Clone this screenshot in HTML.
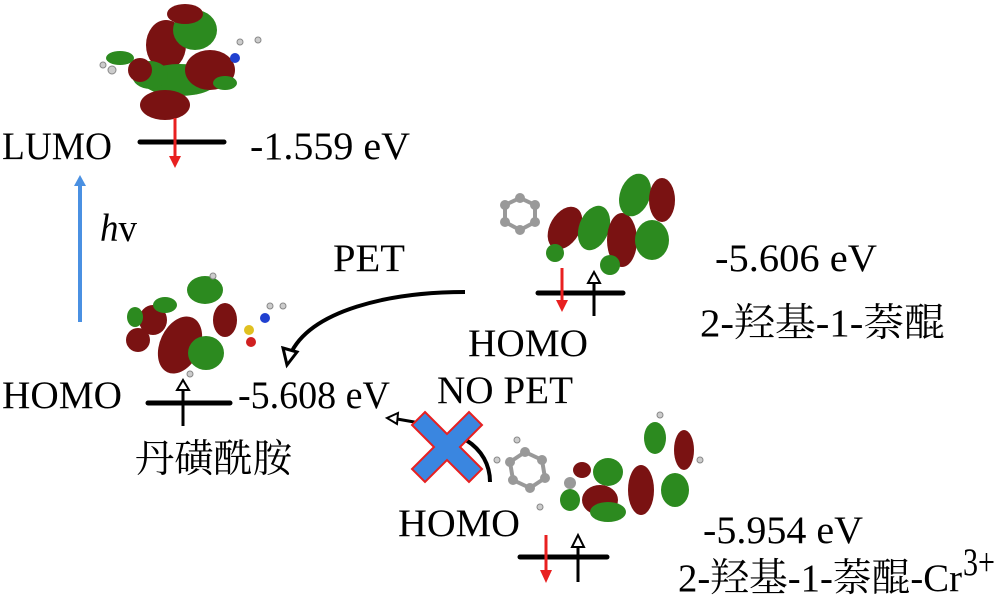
<!DOCTYPE html>
<html><head><meta charset="utf-8"><style>
html,body{margin:0;padding:0;background:#fff}
svg{display:block}
text{font-family:"Liberation Serif","Noto Serif CJK SC",serif;font-size:39px;fill:#000}
.r{fill:#7a1212}.g{fill:#2c8a1f}.h{fill:#ccc;stroke:#888;stroke-width:1}.c{fill:#999}
</style></head><body>
<svg width="1000" height="604" viewBox="0 0 1000 604" xmlns="http://www.w3.org/2000/svg">
<g>
<ellipse class="r" cx="166" cy="45" rx="20" ry="25"/>
<ellipse class="g" cx="195" cy="30" rx="22" ry="20"/>
<ellipse class="r" cx="185" cy="14" rx="18" ry="10"/>
<ellipse class="g" cx="180" cy="80" rx="38" ry="16"/>
<ellipse class="r" cx="210" cy="70" rx="25" ry="20"/>
<ellipse class="r" cx="165" cy="105" rx="25" ry="15"/>
<ellipse class="g" cx="150" cy="75" rx="18" ry="14"/>
<ellipse class="r" cx="140" cy="70" rx="12" ry="12"/>
<ellipse class="g" cx="120" cy="58" rx="14" ry="7"/>
<ellipse class="g" cx="225" cy="83" rx="12" ry="7"/>
<circle cx="235" cy="58" r="5" fill="#2040d0"/>
<circle class="h" cx="112" cy="70" r="4"/><circle class="h" cx="103" cy="65" r="3"/><circle class="h" cx="258" cy="40" r="3"/><circle class="h" cx="240" cy="42" r="3"/>
</g>
<text x="2" y="159" textLength="110" lengthAdjust="spacingAndGlyphs">LUMO</text>
<line x1="140" y1="142" x2="224" y2="142" stroke="#000" stroke-width="5" stroke-linecap="round"/>
<line x1="175" y1="118" x2="175" y2="158" stroke="#e82020" stroke-width="3"/>
<path d="M169,156 L181,156 L175,168z" fill="#e82020"/>
<text x="250" y="159" textLength="160" lengthAdjust="spacingAndGlyphs">-1.559 eV</text>
<line x1="80" y1="322" x2="80" y2="183" stroke="#4a90e2" stroke-width="4"/>
<path d="M74,186 L86,186 L80,175z" fill="#4a90e2"/>
<text x="100" y="241" textLength="37" lengthAdjust="spacingAndGlyphs"><tspan font-style="italic">h</tspan>v</text>
<text x="333" y="271" textLength="72" lengthAdjust="spacingAndGlyphs">PET</text>
<g>
<ellipse class="g" cx="205" cy="290" rx="18" ry="14"/>
<ellipse class="r" cx="180" cy="345" rx="20" ry="30" transform="rotate(25 180 345)"/>
<ellipse class="r" cx="153" cy="320" rx="14" ry="15"/>
<ellipse class="r" cx="138" cy="340" rx="12" ry="12"/>
<ellipse class="g" cx="135" cy="317" rx="8" ry="10"/>
<ellipse class="g" cx="165" cy="305" rx="12" ry="8"/>
<ellipse class="r" cx="225" cy="320" rx="12" ry="17"/>
<ellipse class="g" cx="206" cy="353" rx="18" ry="17"/>
<circle cx="265" cy="318" r="5" fill="#2040d0"/>
<circle cx="249" cy="330" r="5" fill="#e0c020"/>
<circle cx="251" cy="342" r="5" fill="#d02020"/>
<circle class="h" cx="213" cy="276" r="3"/><circle class="h" cx="270" cy="306" r="3"/><circle class="h" cx="283" cy="306" r="3"/><circle class="h" cx="190" cy="374" r="3"/>
</g>
<path d="M465,292 C390,292 310,310 290,355" fill="none" stroke="#000" stroke-width="4"/>
<path d="M283,348 L297,352 L287,365z" fill="#fff" stroke="#000" stroke-width="3"/>
<text x="2" y="408" textLength="120" lengthAdjust="spacingAndGlyphs">HOMO</text>
<line x1="148" y1="403" x2="230" y2="403" stroke="#000" stroke-width="5" stroke-linecap="round"/>
<line x1="183" y1="426" x2="183" y2="388" stroke="#000" stroke-width="3"/>
<path d="M177,390 L189,390 L183,380z" fill="#fff" stroke="#000" stroke-width="2"/>
<text x="238" y="408" textLength="152" lengthAdjust="spacingAndGlyphs">-5.608 eV</text>
<text x="135" y="472" textLength="157" lengthAdjust="spacingAndGlyphs">丹磺酰胺</text>
<g>
<polygon points="505,205 520,198 535,205 535,222 520,230 505,222" fill="none" stroke="#999" stroke-width="4"/>
<circle class="c" cx="505" cy="205" r="5"/><circle class="c" cx="520" cy="198" r="5"/><circle class="c" cx="535" cy="205" r="5"/><circle class="c" cx="535" cy="222" r="5"/><circle class="c" cx="520" cy="230" r="5"/><circle class="c" cx="505" cy="222" r="5"/>
<ellipse class="r" cx="565" cy="228" rx="15" ry="23" transform="rotate(30 565 228)"/>
<ellipse class="g" cx="555" cy="253" rx="9" ry="9"/>
<ellipse class="g" cx="594" cy="228" rx="15" ry="23" transform="rotate(20 594 228)"/>
<ellipse class="r" cx="622" cy="240" rx="15" ry="27"/>
<ellipse class="g" cx="610" cy="265" rx="10" ry="10"/>
<ellipse class="g" cx="635" cy="195" rx="15" ry="22" transform="rotate(20 635 195)"/>
<ellipse class="r" cx="662" cy="200" rx="13" ry="22"/>
<ellipse class="g" cx="652" cy="240" rx="17" ry="20"/>
</g>
<line x1="538" y1="293" x2="623" y2="293" stroke="#000" stroke-width="5" stroke-linecap="round"/>
<line x1="562" y1="268" x2="562" y2="302" stroke="#e82020" stroke-width="3"/>
<path d="M556,300 L568,300 L562,312z" fill="#e82020"/>
<line x1="594" y1="316" x2="594" y2="282" stroke="#000" stroke-width="3"/>
<path d="M588,283 L600,283 L594,272z" fill="#fff" stroke="#000" stroke-width="2"/>
<text x="468" y="356" textLength="120" lengthAdjust="spacingAndGlyphs">HOMO</text>
<text x="715" y="271" textLength="162" lengthAdjust="spacingAndGlyphs">-5.606 eV</text>
<text x="700" y="336" textLength="245" lengthAdjust="spacingAndGlyphs">2-羟基-1-萘醌</text>
<text x="437" y="403" textLength="136" lengthAdjust="spacingAndGlyphs">NO PET</text>
<path d="M466,440 C482,450 490,465 490,482" fill="none" stroke="#000" stroke-width="4"/>
<line x1="420" y1="423" x2="397" y2="419" stroke="#000" stroke-width="3"/>
<path d="M398,413 L387,418 L397,424z" fill="#fff" stroke="#000" stroke-width="2"/>
<path d="M425,412 L447,434 L469,412 L482,425 L460,447 L482,469 L469,482 L447,460 L425,482 L412,469 L434,447 L412,425z" fill="#3a86e0" stroke="#e82020" stroke-width="2"/>
<g>
<polygon points="510,462 525,452 542,460 545,478 530,488 513,480" fill="none" stroke="#999" stroke-width="4"/>
<circle class="c" cx="510" cy="462" r="5"/><circle class="c" cx="525" cy="452" r="5"/><circle class="c" cx="542" cy="460" r="5"/><circle class="c" cx="545" cy="478" r="5"/><circle class="c" cx="530" cy="488" r="5"/><circle class="c" cx="513" cy="480" r="5"/>
<circle class="c" cx="570" cy="483" r="6"/>
<ellipse class="r" cx="582" cy="470" rx="9" ry="8"/>
<ellipse class="g" cx="570" cy="500" rx="10" ry="11"/>
<ellipse class="g" cx="608" cy="472" rx="15" ry="14"/>
<ellipse class="r" cx="600" cy="500" rx="18" ry="15"/>
<ellipse class="g" cx="608" cy="512" rx="18" ry="10"/>
<ellipse class="r" cx="641" cy="490" rx="13" ry="25"/>
<ellipse class="g" cx="655" cy="438" rx="11" ry="16"/>
<ellipse class="r" cx="684" cy="450" rx="10" ry="20"/>
<ellipse class="g" cx="675" cy="490" rx="14" ry="17"/>
<circle class="h" cx="517" cy="440" r="3"/><circle class="h" cx="497" cy="460" r="3"/><circle class="h" cx="540" cy="507" r="3"/><circle class="h" cx="660" cy="415" r="3"/><circle class="h" cx="700" cy="460" r="3"/>
</g>
<text x="398" y="536" textLength="122" lengthAdjust="spacingAndGlyphs">HOMO</text>
<line x1="520" y1="557" x2="607" y2="557" stroke="#000" stroke-width="5" stroke-linecap="round"/>
<line x1="546" y1="535" x2="546" y2="572" stroke="#e82020" stroke-width="3"/>
<path d="M540,570 L552,570 L546,583z" fill="#e82020"/>
<line x1="578" y1="582" x2="578" y2="546" stroke="#000" stroke-width="3"/>
<path d="M572,547 L584,547 L578,535z" fill="#fff" stroke="#000" stroke-width="2"/>
<text x="703" y="543" textLength="160" lengthAdjust="spacingAndGlyphs">-5.954 eV</text>
<text x="678" y="591" textLength="284" lengthAdjust="spacingAndGlyphs">2-羟基-1-萘醌-Cr</text>
<text x="963" y="575" font-size="22" textLength="32" lengthAdjust="spacingAndGlyphs">3+</text>
</svg>
</body></html>
